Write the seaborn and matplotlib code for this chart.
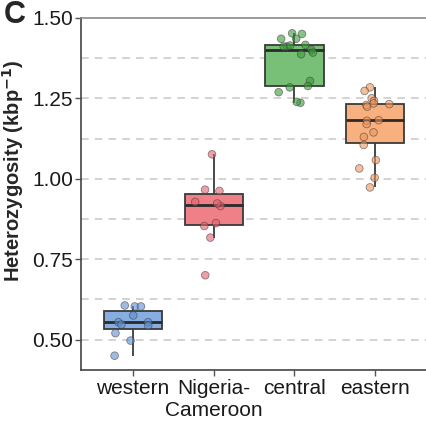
import numpy as np
import pandas as pd
import matplotlib
matplotlib.use("Agg")
import matplotlib.pyplot as plt
import seaborn as sns

# Per-individual heterozygosity (kbp^-1) for each chimpanzee population
western = [0.603, 0.603, 0.606, 0.575, 0.554, 0.544, 0.554, 0.547, 0.520, 0.497, 0.450]
nigeria_cameroon = [1.076, 0.962, 0.966, 0.915, 0.923, 0.928, 0.862, 0.853, 0.817, 0.700]
central = [1.450, 1.452, 1.435, 1.435, 1.416, 1.411, 1.411, 1.414, 1.400, 1.392,
           1.387, 1.304, 1.288, 1.284, 1.269, 1.236, 1.239]
eastern = [1.284, 1.273, 1.250, 1.242, 1.229, 1.224, 1.234, 1.232, 1.182, 1.180,
           1.170, 1.144, 1.130, 1.105, 1.058, 1.032, 1.003, 0.973]

categories = ["western", "Nigeria-\nCameroon", "central", "eastern"]
box_colors = ["#86aee0", "#ef8088", "#78c078", "#f8b07e"]
point_colors = ["#5f8fcf", "#e5606b", "#3a9a3a", "#f0955a"]

df = pd.DataFrame({
    "group": np.repeat(categories, [len(western), len(nigeria_cameroon), len(central), len(eastern)]),
    "het": western + nigeria_cameroon + central + eastern,
})

sns.set_style("white")
plt.rcParams["font.family"] = ["Liberation Sans", "DejaVu Sans"]

fig = plt.figure(figsize=(4.27, 4.25), dpi=100)
ax = fig.add_axes([0.19, 0.129, 0.81, 0.829])

# dashed horizontal guides every 0.125
for g in np.arange(0.5, 1.5, 0.125):
    ax.axhline(g, color="#c8c8c8", lw=1.1, ls=(0, (5, 4)), zorder=0)

sns.boxplot(data=df, x="group", y="het", hue="group", palette=box_colors,
            order=categories, hue_order=categories, legend=False,
            saturation=1, width=0.72, showfliers=False, showcaps=False,
            linewidth=1.3, linecolor="#3a3a3a",
            medianprops=dict(color="#2a2a2a", linewidth=2),
            ax=ax, zorder=2)

np.random.seed(3)
sns.stripplot(data=df, x="group", y="het", hue="group", palette=point_colors,
              order=categories, hue_order=categories, legend=False,
              jitter=0.24, size=5.5, alpha=0.6, linewidth=0.6,
              edgecolor="auto", ax=ax, zorder=3)

ax.set_xlim(-0.64, 3.64)
ax.set_ylim(0.405, 1.50)
ax.set_yticks([0.50, 0.75, 1.00, 1.25, 1.50])
ax.set_yticklabels(["0.50", "0.75", "1.00", "1.25", "1.50"])
ax.set_xlabel("")
ax.set_ylabel("Heterozygosity (kbp$^{\\mathbf{-1}}$)", fontsize=14.5, fontweight="bold")
ax.yaxis.set_label_coords(-0.16, 0.565)
ax.tick_params(axis="both", labelsize=15, length=4, width=1,
               direction="out", left=True, bottom=True, pad=2)
ax.tick_params(axis="x", colors="#555555", labelcolor="#1a1a1a")
ax.tick_params(axis="y", colors="#555555", labelcolor="#1a1a1a")

for side in ["left", "bottom"]:
    ax.spines[side].set_color("#444444")
    ax.spines[side].set_linewidth(1.2)
ax.spines["top"].set_color("#8a8a8a")
ax.spines["top"].set_linewidth(1.2)
ax.spines["right"].set_visible(False)

fig.text(0.008, 0.965, "C", fontsize=22, fontweight="bold", va="center", ha="left")

fig.savefig("out.png", dpi=100)
